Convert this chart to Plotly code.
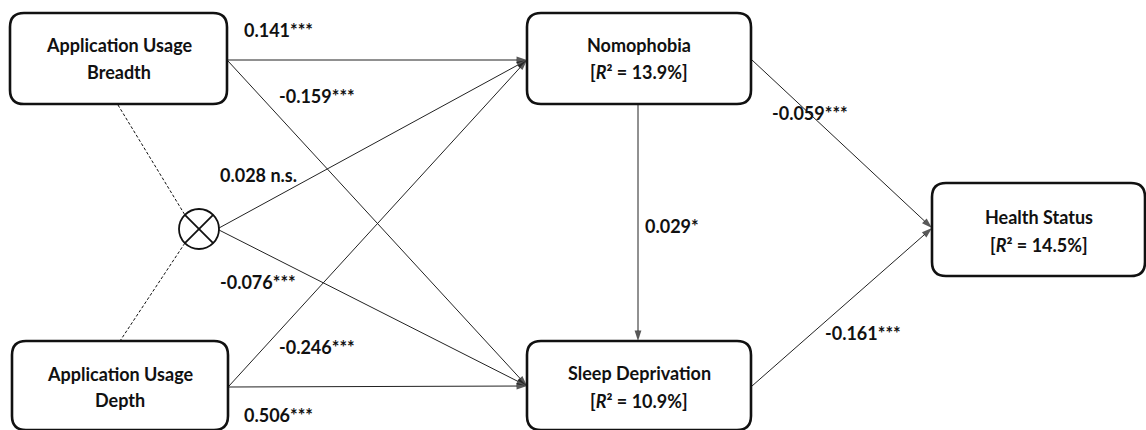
import plotly.graph_objects as go

# Path model: constructs, explained variance and path coefficients
nodes = ["breadth", "depth", "nomo", "sleep", "health"]
node_lines = {
    "breadth": ["Application Usage", "Breadth"],
    "depth": ["Application Usage", "Depth"],
    "nomo": ["Nomophobia"],
    "sleep": ["Sleep Deprivation"],
    "health": ["Health Status"],
}
r_squared = {"nomo": 13.9, "sleep": 10.9, "health": 14.5}

path_from = ["breadth", "breadth", "inter", "inter", "depth", "depth", "nomo", "nomo", "sleep"]
path_to = ["nomo", "sleep", "nomo", "sleep", "nomo", "sleep", "sleep", "health", "health"]
path_coef = ["0.141", "-0.159", "0.028", "-0.076", "-0.246", "0.506", "0.029", "-0.059", "-0.161"]
path_sig = ["***", "***", " n.s.", "***", "***", "***", "*", "***", "***"]

# Layout geometry (pixel space, y pointing down)
W, H = 1146, 430
boxes = {
    "breadth": (10, 13, 227, 104),
    "depth": (12, 341, 228, 430),
    "nomo": (527, 13, 751, 104),
    "sleep": (527, 341, 751, 430),
    "health": (932, 183, 1145, 276),
}
line_y = {
    "breadth": [45, 72],
    "depth": [374, 400],
    "nomo": [45, 72],
    "sleep": [373, 401],
    "health": [217, 245],
}
circle_c, circle_r = (199, 229), 20
start_pt = {
    ("breadth", "nomo"): (227, 60), ("breadth", "sleep"): (228, 61),
    ("inter", "nomo"): (219, 228), ("inter", "sleep"): (219, 230),
    ("depth", "nomo"): (229, 386), ("depth", "sleep"): (229, 387),
    ("nomo", "sleep"): (638, 104), ("nomo", "health"): (752, 60),
    ("sleep", "health"): (752, 386),
}
end_pt = {
    "nomo": (527, 60), "sleep": (527, 386), "health": (932, 228),
}
end_override = {("nomo", "sleep"): (638, 341)}
label_pos = {
    ("breadth", "nomo"): (278, 30), ("breadth", "sleep"): (317, 96),
    ("inter", "nomo"): (258, 175), ("inter", "sleep"): (258, 282),
    ("depth", "nomo"): (317, 347), ("depth", "sleep"): (278, 415),
    ("nomo", "sleep"): (672, 226), ("nomo", "health"): (810, 113),
    ("sleep", "health"): (863, 333),
}

FONT = "Lato, 'Open Sans', sans-serif"
INK = "#111111"
BOX_FONT = 18
LABEL_FONT = 18


def rounded_rect(x0, y0, x1, y1, r):
    return (f"M{x0+r},{y0} L{x1-r},{y0} Q{x1},{y0} {x1},{y0+r} "
            f"L{x1},{y1-r} Q{x1},{y1} {x1-r},{y1} L{x0+r},{y1} "
            f"Q{x0},{y1} {x0},{y1-r} L{x0},{y0+r} Q{x0},{y0} {x0+r},{y0} Z")


fig = go.Figure()
shapes = []
annotations = []

for n in nodes:
    x0, y0, x1, y1 = boxes[n]
    shapes.append(dict(type="path", path=rounded_rect(x0, y0, x1, y1, 14),
                       xref="x", yref="y", line=dict(color=INK, width=2.6),
                       fillcolor="white", layer="above"))
    lines = list(node_lines[n])
    if n in r_squared:
        lines.append(f"[<i>R</i>\u00b2 = {r_squared[n]:.1f}%]")
    cx = (x0 + x1) / 2
    for txt, yy in zip(lines, line_y[n]):
        annotations.append(dict(x=cx, y=yy, xref="x", yref="y", text=f"<b>{txt}</b>",
                                showarrow=False, font=dict(family=FONT, size=BOX_FONT, color=INK),
                                xanchor="center", yanchor="middle"))

# Interaction term: circle with a cross, dashed links to both predictors
cx, cy = circle_c
shapes.append(dict(type="circle", x0=cx - circle_r, y0=cy - circle_r, x1=cx + circle_r,
                   y1=cy + circle_r, xref="x", yref="y", line=dict(color=INK, width=1.8),
                   fillcolor="white"))
d = circle_r * 0.707
shapes.append(dict(type="line", x0=cx - d, y0=cy - d, x1=cx + d, y1=cy + d,
                   xref="x", yref="y", line=dict(color=INK, width=1.8)))
shapes.append(dict(type="line", x0=cx - d, y0=cy + d, x1=cx + d, y1=cy - d,
                   xref="x", yref="y", line=dict(color=INK, width=1.8)))
shapes.append(dict(type="line", x0=118, y0=105, x1=cx - d, y1=cy - d, xref="x", yref="y",
                   line=dict(color=INK, width=1, dash="3px,2px")))
shapes.append(dict(type="line", x0=cx - d, y0=cy + d, x1=120, y1=341, xref="x", yref="y",
                   line=dict(color=INK, width=1, dash="3px,2px")))

# Structural paths: line traces ending in an arrow marker, plus coefficient labels
for src, dst, coef, sig in zip(path_from, path_to, path_coef, path_sig):
    sx, sy = start_pt[(src, dst)]
    ex, ey = end_override.get((src, dst), end_pt[dst])
    fig.add_trace(go.Scatter(
        x=[sx, ex], y=[sy, ey], mode="lines+markers",
        line=dict(color="#222222", width=1),
        marker=dict(symbol="arrow", size=[0, 11], angleref="previous",
                    color="#111111", line=dict(width=0)),
        hoverinfo="skip", showlegend=False,
    ))
    lx, ly = label_pos[(src, dst)]
    annotations.append(dict(x=lx, y=ly, xref="x", yref="y", text=f"<b>{coef}{sig}</b>",
                            showarrow=False, font=dict(family=FONT, size=LABEL_FONT, color=INK),
                            xanchor="center", yanchor="middle"))

fig.update_layout(
    width=W, height=H, margin=dict(l=0, r=0, t=0, b=0),
    paper_bgcolor="white", plot_bgcolor="white",
    xaxis=dict(range=[0, W], visible=False, fixedrange=True),
    yaxis=dict(range=[H, 0], visible=False, fixedrange=True),
    shapes=shapes, annotations=annotations, showlegend=False,
)
fig.write_html("out.html")
